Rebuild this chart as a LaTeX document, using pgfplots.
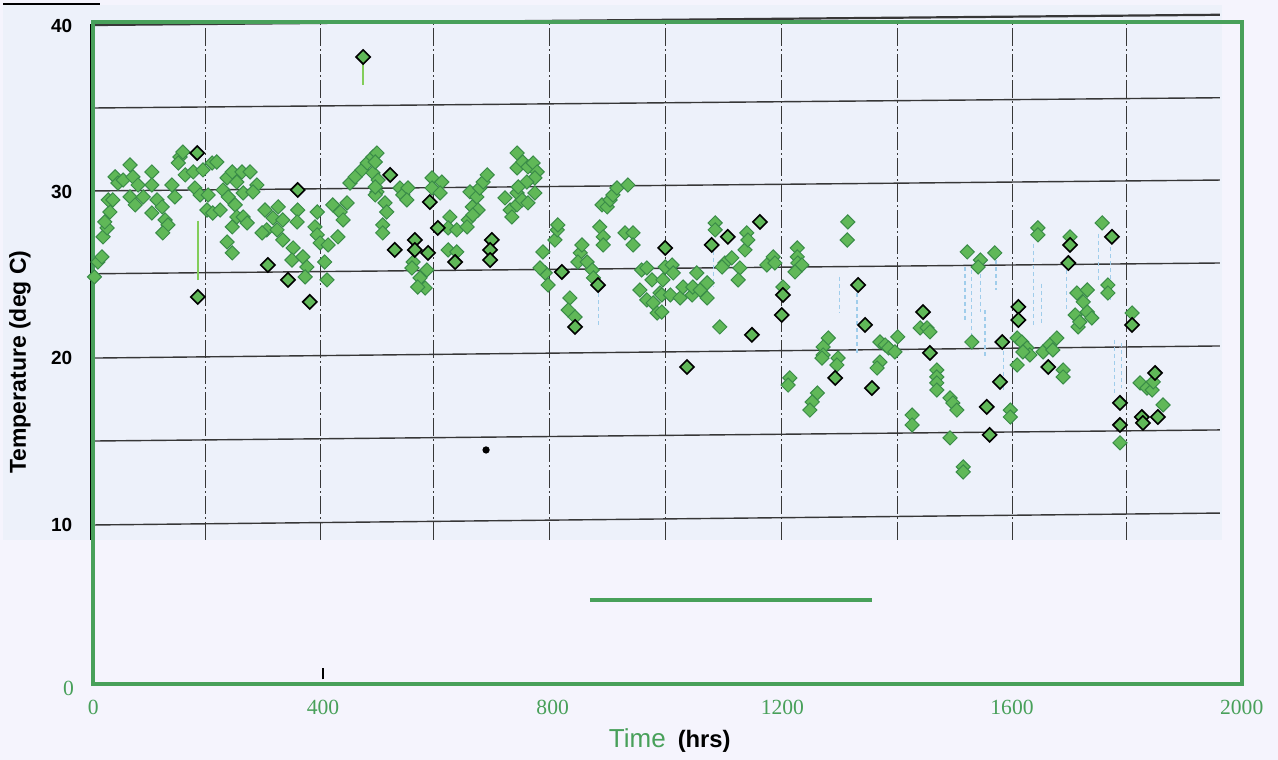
\documentclass[border=0pt]{standalone}
\usepackage{fontspec}
\setmainfont{Liberation Sans}
\newfontfamily\seriffont{Liberation Serif}
\usepackage{pgfplots}
\usepackage{pgfplotstable}
\pgfplotsset{compat=1.18}
\definecolor{axgreen}{RGB}{72,160,90}
\definecolor{pagebg}{RGB}{245,244,253}
\definecolor{scanbg}{RGB}{237,241,250}
\definecolor{mkfill}{RGB}{96,184,88}
\definecolor{mkedge}{RGB}{58,140,72}
\definecolor{gridc}{RGB}{55,55,55}
\definecolor{dropc}{RGB}{130,205,90}
\definecolor{streakc}{RGB}{160,205,235}

\pgfplotstableread{
x y
2 24.60
8 25.50
15 25.81
17 27.02
24 27.56
20 27.92
29 28.52
26 29.25
34 29.25
38 30.64
43 30.27
64 31.36
52 30.45
69 30.64
78 30.15
64 29.43
73 28.95
87 29.43
102 30.94
102 30.15
111 29.25
102 28.46
120 28.83
125 28.04
130 27.74
121 27.26
137 30.15
142 29.43
151 31.84
156 32.14
148 31.48
160 30.76
174 30.94
177 29.97
191 31.06
186 29.55
200 29.55
198 28.64
207 31.48
215 31.54
208 28.46
221 28.64
233 30.58
242 30.94
226 29.85
235 29.43
250 30.33
259 30.94
273 30.94
261 29.67
247 28.95
242 27.62
250 28.22
261 28.22
268 27.86
233 26.71
242 26.05
285 30.15
278 29.73
299 28.64
322 28.83
313 28.16
302 27.44
294 27.26
320 27.44
330 28.04
330 26.83
348 26.35
356 28.64
355 27.92
346 25.62
365 25.81
372 25.20
369 24.60
390 28.52
386 27.62
390 27.14
395 26.65
409 26.53
403 25.50
407 24.42
417 28.95
430 28.52
435 28.04
426 27.02
442 29.07
447 30.27
456 30.64
468 31.06
477 31.48
487 31.84
494 32.08
487 30.88
496 30.45
494 29.73
491 29.55
491 31.54
491 30.03
508 29.07
511 28.52
504 27.74
504 27.26
534 29.97
539 29.55
548 29.97
546 29.25
557 25.50
555 25.14
581 25.02
569 24.54
578 23.93
565 23.99
590 30.58
590 29.97
607 30.33
604 29.67
621 28.22
618 27.56
633 27.44
618 26.23
633 26.11
656 29.73
660 28.83
653 28.04
668 29.43
673 29.97
679 30.33
686 30.76
670 28.64
661 28.34
651 27.62
717 29.37
726 28.64
729 28.22
738 28.95
738 29.67
747 29.25
757 29.07
769 29.67
738 32.08
738 31.18
748 31.54
757 31.24
766 31.48
773 30.94
769 30.58
755 30.33
740 30.03
783 26.11
787 24.84
778 25.14
792 24.11
804 26.83
808 27.44
809 27.74
830 23.33
827 22.60
839 22.18
848 26.05
851 26.53
844 25.50
860 25.50
869 25.02
871 24.54
882 27.62
888 27.02
888 26.53
886 28.95
895 28.83
900 29.25
905 29.55
912 29.97
931 30.15
926 27.26
940 27.26
940 26.53
955 25.02
964 25.14
952 23.81
964 23.21
975 23.03
982 22.42
973 24.42
987 23.63
996 25.20
992 24.42
1008 25.32
1010 24.84
990 23.51
1005 23.51
1022 23.33
1027 23.99
1043 23.51
1044 23.99
1051 24.84
1057 23.81
1069 24.24
1069 23.33
990 22.48
1083 27.86
1083 27.44
1100 25.44
1112 25.75
1095 25.20
1126 25.14
1123 24.42
1135 26.23
1138 27.26
1140 26.83
1091 21.58
1173 25.32
1184 25.81
1187 25.44
1201 23.99
1226 26.35
1226 25.81
1227 25.44
1234 25.32
1222 24.90
1314 27.92
1313 26.83
1213 18.50
1210 18.07
1280 20.91
1271 20.37
1271 19.89
1269 19.70
1297 19.70
1295 19.28
1261 17.59
1252 17.05
1248 16.56
1370 20.67
1379 20.49
1385 20.31
1396 20.07
1401 20.98
1370 19.46
1365 19.10
1440 21.52
1452 21.52
1457 21.28
1469 18.98
1469 18.56
1469 18.20
1469 17.77
1492 17.29
1497 16.99
1504 16.56
1426 16.26
1426 15.66
1492 14.88
1515 13.13
1515 12.82
1522 26.11
1545 25.62
1541 25.20
1570 26.05
1530 20.67
1597 16.56
1597 16.14
1645 27.56
1645 27.14
1609 20.91
1617 20.67
1626 20.31
1631 19.89
1619 20.07
1609 19.28
1654 20.07
1666 20.49
1678 20.91
1671 20.19
1689 18.98
1689 18.56
1701 27.02
1713 23.63
1731 23.81
1724 23.09
1710 22.30
1731 22.48
1739 22.12
1715 21.58
1718 21.88
1757 27.86
1767 24.11
1767 23.63
1809 22.42
1788 14.58
1823 18.20
1835 17.89
1844 17.77
1846 18.26
1863 16.87
}\greenpts

\pgfplotstableread{
x y
181 32.08
182 23.39
356 29.85
339 24.42
304 25.32
377 23.09
470 37.88
517 30.76
525 26.23
560 26.83
560 26.23
583 26.05
586 29.12
600 27.56
630 25.50
694 26.83
691 26.23
691 25.62
816 24.90
839 21.58
879 24.11
996 26.35
1034 19.16
1077 26.53
1105 27.02
1147 21.10
1161 27.92
1201 23.51
1199 22.30
1292 18.50
1332 24.11
1344 21.70
1356 17.89
1445 22.48
1457 20.01
1583 20.67
1579 18.26
1556 16.75
1561 15.06
1611 22.79
1611 22.00
1663 19.16
1701 26.53
1698 25.44
1774 27.02
1809 21.70
1788 16.99
1788 15.66
1849 18.80
1826 16.14
1828 15.78
1854 16.14
}\blackpts

\begin{document}
\begin{tikzpicture}
\begin{axis}[
  width=574.2pt, height=331.2pt, scale only axis,
  xmin=0, xmax=2000, ymin=0, ymax=40,
  clip=false, axis on top,
  axis line style={axgreen, line width=2pt},
  major tick length=0pt,
  xtick={0,400,800,1200,1600,2000},
  xticklabels={0,400,800,1200,1600,2000},
  xticklabel style={font=\seriffont\fontsize{10.8}{12}\selectfont, text=axgreen, yshift=-4.5pt},
  ytick={9.65,19.7,29.75,39.75},
  yticklabels={10,20,30,40},
  yticklabel style={font=\fontsize{9.5}{11}\selectfont\bfseries, text=black, xshift=-7pt},
]
% page and scanned-sheet backgrounds
\fill[pagebg] (axis cs:-162.5,-4.571) rectangle (axis cs:2063.2,41.322);
\fill[scanbg] (axis cs:-157.3,8.74) rectangle (axis cs:1965.7,41.02);
% scanned horizontal grid lines (slightly tilted)
\addplot[gridc, line width=1.1pt, forget plot] coordinates {(0,39.81) (1962,40.43)};
\addplot[gridc, line width=0.7pt, forget plot] coordinates {(0,34.80) (1962,35.42)};
\addplot[gridc, line width=0.7pt, forget plot] coordinates {(0,29.79) (1962,30.45)};
\addplot[gridc, line width=0.7pt, forget plot] coordinates {(0,24.79) (1962,25.44)};
\addplot[gridc, line width=0.7pt, forget plot] coordinates {(0,19.70) (1962,20.43)};
\addplot[gridc, line width=0.7pt, forget plot] coordinates {(0,14.69) (1962,15.36)};
\addplot[gridc, line width=0.7pt, forget plot] coordinates {(0,9.62) (1962,10.34)};
% scanned vertical dash-dot grid lines
\foreach \gx in {196,395,592,794,997,1199,1400,1601,1800}{
  \edef\temp{\noexpand\addplot[gridc, line width=0.6pt, dash pattern=on 9pt off 1.5pt on 1pt off 1.5pt, forget plot] coordinates {(\gx,8.74) (\gx,40.1)};}
  \temp
}
% scanned left axis line
\addplot[black, line width=1.5pt, forget plot] coordinates {(-4,8.74) (-4,39.85)};
% faint drop trails
\addplot[dropc, line width=0.9pt, forget plot] coordinates {(470,37.5) (470,36.2)};
\addplot[dropc, line width=0.7pt, forget plot] coordinates {(182,28.0) (182,24.4)};
\foreach \sx/\sa/\sb in {1518/25.2/22.0, 1530/25.0/21.0, 1545/24.8/22.5, 1572/25.6/23.8, 1553/22.6/19.8, 1585/21.0/17.8, 1637/26.6/21.6, 1652/24.2/21.8, 1695/25.0/22.6, 1750/27.2/24.4, 1772/26.4/23.2, 1778/20.8/17.5, 1790/20.6/17.9, 1330/23.6/20.0, 1300/24.6/22.4, 1080/26.6/24.0, 880/23.6/21.6}{
  \edef\temp{\noexpand\addplot[streakc, line width=0.6pt, dash pattern=on 2pt off 1.5pt, forget plot] coordinates {(\sx,\sa) (\sx,\sb)};}
  \temp
}
% data markers
\addplot[only marks, mark=square*, mark size=2.5pt,
  mark options={rotate=45, fill=mkfill, draw=mkedge, line width=0.5pt}] table[x=x,y=y] {\greenpts};
\addplot[only marks, mark=square*, mark size=2.5pt,
  mark options={rotate=45, fill=mkfill, draw=black, line width=0.8pt}] table[x=x,y=y] {\blackpts};
% speck
\addplot[only marks, mark=*, mark size=1.6pt, black] coordinates {(684,14.15)};
% green segment
\addplot[axgreen, line width=1.6pt] coordinates {(865,5.09) (1356,5.09)};
% small black tick at 400
\addplot[black, line width=0.9pt] coordinates {(400,0.3) (400,1.0)};
% top-left black line
\addplot[black, line width=0.6pt] coordinates {(-157,41.08) (12,41.08)};
% labels
\node[font=\seriffont\fontsize{10.8}{12}\selectfont, text=axgreen] at (axis cs:-43,-0.25) {0};
\node[rotate=90, font=\fontsize{11.5}{13}\selectfont\bfseries] at (axis cs:-127.7,19.46) {Temperature (deg C)};
\node[anchor=center] at (axis cs:1004,-3.42) {{\fontsize{13}{15}\selectfont\color{axgreen}Time}\hspace{6pt}{\fontsize{11.9}{14}\selectfont\bfseries (hrs)}};
\end{axis}
\end{tikzpicture}
\end{document}
